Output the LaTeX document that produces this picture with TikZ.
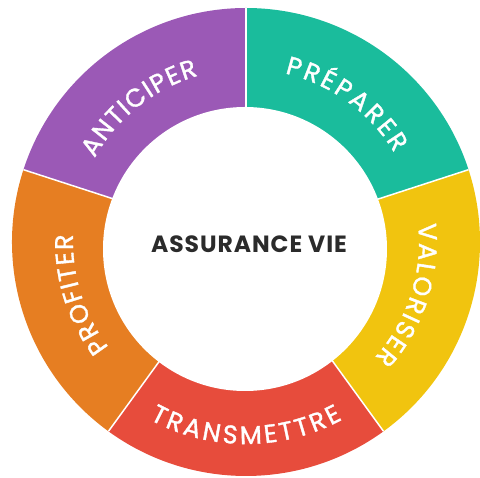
\documentclass[tikz,border=0pt]{standalone}
\usepackage{fontspec}
\setmainfont{Poppins}
\newfontfamily\labelfont{Poppins}[FakeBold=1.4]
\newfontfamily\titlefont{Poppins}[LetterSpace=4]
\usepackage{tikz}
\usetikzlibrary{decorations.text}

\definecolor{cTeal}{HTML}{1ABC9C}
\definecolor{cPurple}{HTML}{9B59B6}
\definecolor{cOrange}{HTML}{E67E22}
\definecolor{cRed}{HTML}{E74C3C}
\definecolor{cYellow}{HTML}{F1C40F}
\definecolor{cText}{HTML}{2B2B2B}

\begin{document}
\begin{tikzpicture}[x=1pt, y=1pt,
    divider/.style={draw=white, line width=1.5pt},
    ringlabel/.style={decorate, decoration={text along path, text align={fit to path}, text color=white,
        text={|\labelfont\fontsize{25.5}{25.5}\selectfont|#1}}},
    centretitle/.style={font=\titlefont\bfseries\fontsize{23.5}{23.5}\selectfont, text=cText}
]

\useasboundingbox (-246,-236) rectangle (234,242);

% Ring slices
\fill[cTeal] (0,0) -- (18:234) arc[start angle=18, end angle=90, radius=234] -- cycle;
\fill[cPurple] (0,0) -- (90:234) arc[start angle=90, end angle=162, radius=234] -- cycle;
\fill[cOrange] (0,0) -- (162:234) arc[start angle=162, end angle=234, radius=234] -- cycle;
\fill[cRed] (0,0) -- (234:234) arc[start angle=234, end angle=306, radius=234] -- cycle;
\fill[cYellow] (0,0) -- (306:234) arc[start angle=306, end angle=378, radius=234] -- cycle;

% White gaps between slices
\draw[divider] (0,0) -- (18:234);
\draw[divider] (0,0) -- (90:234);
\draw[divider] (0,0) -- (162:234);
\draw[divider] (0,0) -- (234:234);
\draw[divider] (0,0) -- (306:234);

% Hole in the middle
\fill[white] (-1,-7) circle[radius=142];
\node[centretitle] (assurance) at (3,-2) {ASSURANCE VIE};

% Labels along the ring
\path[ringlabel=ANTICIPER] (151:173) arc[start angle=151, end angle=106, radius=173];
\path[ringlabel=PRÉPARER] (77:173) arc[start angle=77, end angle=31, radius=173];
\path[ringlabel=VALORISER] (6:173) arc[start angle=6, end angle=-42, radius=173];
\path[ringlabel=PROFITER] (217.5:173) arc[start angle=217.5, end angle=177.5, radius=173];
\path[ringlabel=TRANSMETTRE] (241.5:202) arc[start angle=241.5, end angle=298.5, radius=202];

\end{tikzpicture}
\end{document}
